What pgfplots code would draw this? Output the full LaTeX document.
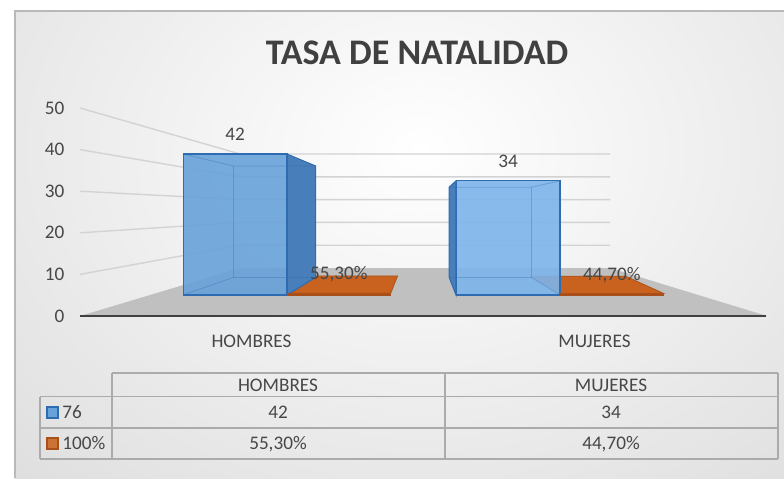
\documentclass[border=0pt]{standalone}
\usepackage{pgfplots}
\pgfplotsset{compat=1.18}
\usepackage{fontspec}
\setmainfont{Carlito}
\definecolor{txt}{HTML}{474747}
\definecolor{bfA}{HTML}{68A2DA}
\definecolor{bfB}{HTML}{7DB4EB}
\definecolor{bside}{HTML}{487EB9}
\definecolor{bedge}{HTML}{2E6BB0}
\definecolor{otop}{HTML}{C8621E}
\definecolor{ofront}{HTML}{A9501A}
\definecolor{floorc}{HTML}{C0C0C0}
\definecolor{gridc}{HTML}{D3D3D3}
\definecolor{bgedge}{HTML}{D0D0D0}
\definecolor{tablec}{HTML}{ABABAB}
\newcommand\lbl{\fontsize{9.6}{11.5}\selectfont}
\pgfplotsset{/pgf/number format/assume math mode=true}
\begin{document}
\begin{tikzpicture}
\begin{scope}[x=0.5pt,y=-0.5pt]
\useasboundingbox (0,0) rectangle (784,478);
\fill[white] (0,0) rectangle (784,478);
\begin{scope}
\clip (15,11) rectangle (784,478);
\shade[inner color=white, outer color=bgedge] (-440,-510) rectangle (1280,810);
\end{scope}
\draw[gray!55, line width=0.8pt] (15,478) -- (15,11) -- (784,11);
\foreach \v in {10,20,30,40,50}{
  \draw[gridc, line width=0.7pt] (80,{316-4.16*\v}) -- (240,{268-2.28*\v}) -- (610,{268-2.28*\v});
}
\fill[floorc] (80,316) -- (240,268) -- (610,268) -- (767,316) -- cycle;
\node[font=\fontsize{18}{21}\selectfont\bfseries, text=txt!90!black] at (417,53) {TASA DE NATALIDAD};
% data table
\begin{scope}[tablec, line width=0.8pt]
\draw (112,373) -- (778,373);
\draw (40,396.5) -- (778,396.5);
\draw (40,428) -- (778,428);
\draw (40,459) -- (778,459);
\draw (40,396.5) -- (40,459);
\draw (112,373) -- (112,459);
\draw (445,373) -- (445,459);
\draw (778,373) -- (778,459);
\end{scope}
\begin{scope}[every node/.style={font=\lbl, text=txt, text depth=0pt}]
\node at (278,385) {HOMBRES};
\node at (611,385) {MUJERES};
\node at (278,412) {42};
\node at (611,412) {34};
\node at (278,443) {55,30\%};
\node at (611,443) {44,70\%};
\node[anchor=west, inner sep=1pt] at (60,412) {76};
\node[anchor=west, inner sep=1pt] at (60,443) {100\%};
\end{scope}
\filldraw[fill=bfA, draw=bedge, line width=0.6pt] (47,407) rectangle (58,418);
\filldraw[fill=otop!90!white, draw=ofront, line width=0.6pt] (47,438) rectangle (58,449);
\coordinate (FA) at (80,316);
\coordinate (BA) at (150.5,295);
\end{scope}

% front axis: value scale and categories
\begin{axis}[at={(FA)}, anchor=south west, scale only axis, width=343pt, height=104pt,
  xmin=-0.5, xmax=1.5, ymin=0, ymax=50,
  axis x line*=bottom, axis y line*=left,
  x axis line style={draw=txt!90!black, line width=1.3pt, -},
  y axis line style={draw=none},
  major tick length=0pt,
  xtick={0,1}, xticklabels={HOMBRES,MUJERES},
  ytick={0,10,20,30,40,50},
  tick label style={font=\lbl, text=txt},
  xticklabel style={anchor=center, yshift=-12.5pt, text depth=0pt},
  yticklabel style={anchor=east, xshift=-4.3pt},
  clip=false]
\end{axis}

% bar plane axis (categories at 0 and 1, series 76 left of each, series 100% right)
\begin{axis}[at={(BA)}, anchor=south west, scale only axis, width=273pt, height=83.93pt,
  xmin=-0.5, xmax=1.5, ymin=0, ymax=50, hide axis, clip=false,
  every node near coord/.append style={font=\lbl, text=txt, anchor=center, yshift=10pt, text depth=0pt, fill opacity=1, text opacity=1}]
% orange top faces (series 100%)
\addplot[fill=otop, draw=otop!85!black, line width=0.4pt, mark=none] coordinates {(0,0.553) (0.38,0.553) (0.405,5.69) (0.105,5.69)} --cycle;
\addplot[fill=otop, draw=otop!85!black, line width=0.4pt, mark=none] coordinates {(1,0.447) (1.38,0.447) (1.24,5.60) (0.895,5.60)} --cycle;
% blue side faces (series 76)
\addplot[fill=bside, draw=bedge, line width=0.5pt, mark=none] coordinates {(0,0) (0,42) (0.105,38.43) (0.105,5.25)} --cycle;
\addplot[fill=bside, draw=bedge, line width=0.5pt, mark=none] coordinates {(0.619,0) (0.619,34) (0.594,32.11) (0.594,5.25)} --cycle;
% blue front faces
\addplot[ybar, bar width=0.38, bar shift=0, fill=bfA, draw=bedge, line width=0.6pt, fill opacity=0.9, nodes near coords] coordinates {(-0.19,42)};
\addplot[ybar, bar width=0.38, bar shift=0, fill=bfB, draw=bedge, line width=0.6pt, fill opacity=0.9, nodes near coords] coordinates {(0.81,34)};
% hidden edges seen through
\addplot[bedge, opacity=0.35, line width=0.4pt, mark=none] coordinates {(-0.381,42) (-0.196,38.43) (0.105,38.43)};
\addplot[bedge, opacity=0.35, line width=0.4pt, mark=none] coordinates {(-0.196,38.43) (-0.196,5.25) (0.105,5.25)};
\addplot[bedge, opacity=0.35, line width=0.4pt, mark=none] coordinates {(-0.381,0) (-0.196,5.25)};
\addplot[bedge, opacity=0.35, line width=0.4pt, mark=none] coordinates {(1,34) (0.895,32.11) (0.594,32.11)};
\addplot[bedge, opacity=0.35, line width=0.4pt, mark=none] coordinates {(0.895,32.11) (0.895,5.25) (0.594,5.25)};
\addplot[bedge, opacity=0.35, line width=0.4pt, mark=none] coordinates {(1,0) (0.895,5.25)};
% orange front faces with labels
\addplot[ybar, bar width=0.38, bar shift=0, fill=ofront, draw=ofront, line width=0.4pt, point meta=explicit symbolic, nodes near coords] coordinates {(0.19,0.553) [{55,30\%}] (1.19,0.447) [{44,70\%}]};
\end{axis}
\end{tikzpicture}
\end{document}
